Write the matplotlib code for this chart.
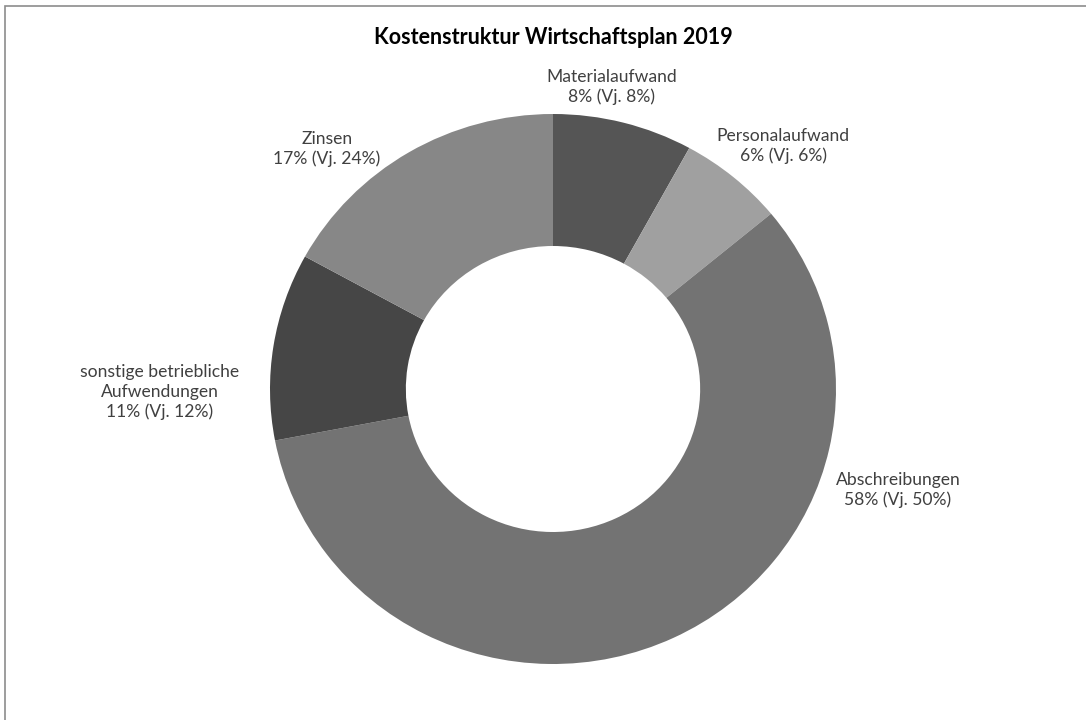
import matplotlib.pyplot as plt
from matplotlib.patches import Rectangle

# Kostenstruktur Wirtschaftsplan 2019
categories = ['Materialaufwand', 'Personalaufwand', 'Abschreibungen',
              'sonstige betriebliche\nAufwendungen', 'Zinsen']
shares = [8, 6, 58, 11, 17]
shares_prev = [8, 6, 50, 12, 24]
colors = ['#555555', '#a0a0a0', '#737373', '#464646', '#878787']

# label centres in pixel coordinates (x, y from top)
label_px = [(612, 87), (783, 146), (898, 490), (160, 392), (327, 149)]

W, H = 1086, 720
cx, cy = 553, 389
rx, ry = 283, 275

plt.rcParams['font.family'] = ['Lato', 'DejaVu Sans']

fig = plt.figure(figsize=(W / 100, H / 100), dpi=100)
ax = fig.add_axes([0, 0, 1, 1])

ax.pie(shares, colors=colors, startangle=90, counterclock=False,
       wedgeprops=dict(width=0.48, edgecolor='none'))

# pie resets limits, so set them afterwards (slightly wider than tall like the original)
ax.set_aspect('auto')
ax.set_xlim(-cx / rx, (W - cx) / rx)
ax.set_ylim(-(H - cy) / ry, cy / ry)
ax.axis('off')

for cat, s, sp, (px, py) in zip(categories, shares, shares_prev, label_px):
    ax.text((px - cx) / rx, (cy - py) / ry, '{0}\n{1}% (Vj. {2}%)'.format(cat, s, sp),
            ha='center', va='center', fontsize=12.6, color='#404040', linespacing=1.25)

fig.text(cx / W, 1 - 37 / H, 'Kostenstruktur Wirtschaftsplan 2019', ha='center', va='center',
         fontsize=15.5, fontweight='bold', color='black')

# chart frame, runs off the right and bottom edge
fig.patches.append(Rectangle((5 / W, -0.05), 1.1, 1 - 6 / H + 0.05, transform=fig.transFigure,
                             fill=False, edgecolor='#8c8c8c', linewidth=1.2))

fig.savefig('out.png', dpi=100)
